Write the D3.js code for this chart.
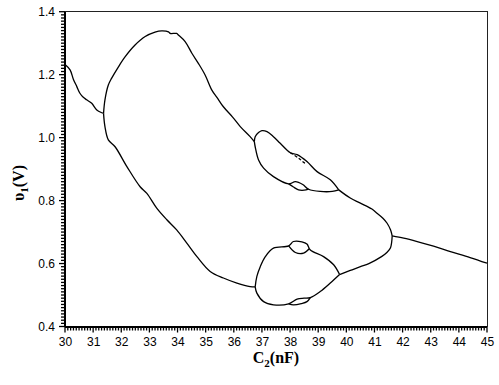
<!DOCTYPE html>
<html><head><meta charset="utf-8">
<script src="https://cdn.jsdelivr.net/npm/d3@7"></script>
<style>body{margin:0;background:#fff}svg{display:block}</style>
</head><body>
<svg id="c" width="499" height="385"></svg>
<script>
// ---- data (C2 in nF, v1 in V) ----
const xTicks = [30,31,32,33,34,35,36,37,38,39,40,41,42,43,44,45];
const yTicks = [0.4,0.6,0.8,1.0,1.2,1.4];

const period1Left = [[30.00,1.232],[30.18,1.215],[30.30,1.185],[30.42,1.162],[30.53,1.141],[30.65,1.128],[30.77,1.120],[30.95,1.109],[31.13,1.088],[31.31,1.079],[31.37,1.077]];
const bigLoopUpper = [[31.37,1.077],[31.42,1.120],[31.54,1.167],[31.66,1.189],[31.90,1.225],[32.14,1.257],[32.49,1.294],[32.85,1.321],[33.20,1.335],[33.44,1.339],[33.68,1.336],[33.74,1.331],[33.97,1.331],[34.03,1.326],[34.27,1.305],[34.51,1.268],[34.74,1.236],[34.98,1.199],[35.22,1.151],[35.40,1.128],[35.63,1.098],[35.95,1.066],[36.23,1.035],[36.58,1.003],[36.73,0.987]];
const bigLoopLower = [[31.37,1.077],[31.42,1.035],[31.54,0.993],[31.78,0.971],[32.20,0.908],[32.67,0.844],[32.91,0.823],[33.26,0.776],[33.62,0.739],[33.97,0.707],[34.33,0.665],[34.69,0.622],[35.16,0.575],[35.63,0.554],[36.11,0.538],[36.58,0.527],[36.76,0.526]];

const upperLoopTop = [[36.73,0.987],[36.76,1.003],[36.88,1.016],[37.00,1.022],[37.18,1.019],[37.41,1.003],[37.65,0.982],[38.01,0.952],[38.25,0.946],[38.60,0.924],[38.96,0.892],[39.43,0.866],[39.73,0.834]];
const upperLoopTopBubble = [[38.01,0.952],[38.30,0.935],[38.54,0.919],[38.60,0.924]];
const upperLoopBottom = [[36.73,0.987],[36.76,0.971],[36.88,0.929],[37.06,0.903],[37.41,0.876],[37.95,0.853],[38.19,0.860],[38.45,0.851],[38.66,0.836],[39.07,0.829],[39.50,0.829],[39.73,0.834]];
const upperLoopBottomBubble = [[37.95,0.853],[38.12,0.843],[38.30,0.834],[38.50,0.833],[38.66,0.836]];

const lowerLoopTop = [[36.76,0.526],[36.82,0.559],[36.94,0.590],[37.12,0.622],[37.41,0.649],[37.95,0.656],[38.12,0.670],[38.42,0.669],[38.60,0.662],[38.72,0.643],[39.19,0.622],[39.55,0.596],[39.76,0.565]];
const lowerLoopTopBubble = [[37.95,0.656],[38.19,0.635],[38.48,0.633],[38.68,0.647]];
const lowerLoopBottom = [[36.76,0.526],[36.82,0.506],[37.06,0.479],[37.41,0.469],[37.95,0.472],[38.25,0.487],[38.50,0.490],[38.72,0.492],[39.07,0.511],[39.43,0.538],[39.76,0.565]];
const lowerLoopBottomBubble = [[37.95,0.472],[38.12,0.469],[38.40,0.473],[38.60,0.479],[38.72,0.492]];

const period2Upper = [[39.73,0.834],[40.14,0.808],[40.50,0.792],[40.91,0.773],[41.09,0.760],[41.30,0.744],[41.45,0.728],[41.57,0.707],[41.63,0.688]];
const period2Lower = [[39.76,0.565],[40.14,0.578],[40.50,0.590],[40.80,0.600],[41.25,0.622],[41.45,0.636],[41.57,0.650],[41.63,0.688]];
const period1Right = [[41.63,0.688],[42.04,0.681],[42.52,0.670],[43.10,0.655],[43.70,0.638],[44.40,0.619],[45.00,0.601]];

const branches = [
  {d: period1Left, dash: null},
  {d: bigLoopUpper, dash: null},
  {d: bigLoopLower, dash: null},
  {d: upperLoopTop, dash: null},
  {d: upperLoopTopBubble, dash: "3,2"},
  {d: upperLoopBottom, dash: null},
  {d: upperLoopBottomBubble, dash: null},
  {d: lowerLoopTop, dash: null},
  {d: lowerLoopTopBubble, dash: null},
  {d: lowerLoopBottom, dash: null},
  {d: lowerLoopBottomBubble, dash: null},
  {d: period2Upper, dash: null},
  {d: period2Lower, dash: null},
  {d: period1Right, dash: null}
];

// ---- drawing ----
const svg = d3.select("#c");
const L = 65, R = 487, T = 11.7, B = 326.5;
const x = d3.scaleLinear().domain([30,45]).range([L,R]);
const y = d3.scaleLinear().domain([0.4,1.4]).range([B,T]);

const xMinor = d3.range(300,451).map(v=>v/10);
const yMinor = d3.range(40,141).map(v=>v/100);
const isMajorX = v => Math.abs(v - Math.round(v)) < 1e-6;
const isMajorY = v => Math.abs(v*5 - Math.round(v*5)) < 1e-6;

// tick marks
const tg = svg.append("g").attr("stroke","#000").attr("stroke-width",1.3);
tg.selectAll("line.xt").data(xMinor).join("line").attr("class","xt")
  .attr("x1",d=>x(d)).attr("x2",d=>x(d))
  .attr("y1",B).attr("y2",d=>B+(isMajorX(d)?6:4));
tg.selectAll("line.yt").data(yMinor).join("line").attr("class","yt")
  .attr("y1",d=>y(d)).attr("y2",d=>y(d))
  .attr("x1",L).attr("x2",d=>L-(isMajorY(d)?6:4));

// tick labels via axes (no tick lines)
svg.append("g").attr("transform",`translate(0,${B})`)
  .call(d3.axisBottom(x).tickValues(xTicks).tickSize(0).tickPadding(11).tickFormat(d3.format("d")))
  .call(g=>{g.select(".domain").remove(); g.selectAll(".tick line").remove();});
svg.append("g").attr("transform",`translate(${L},0)`)
  .call(d3.axisLeft(y).tickValues(yTicks).tickSize(0).tickPadding(10).tickFormat(d3.format(".1f")))
  .call(g=>{g.select(".domain").remove(); g.selectAll(".tick line").remove();});
svg.selectAll(".tick text").attr("font-family","'Liberation Sans', Arial, sans-serif").attr("font-size",12).attr("fill","#000");

// frame
svg.append("rect").attr("x",L).attr("y",T).attr("width",R-L).attr("height",B-T)
  .attr("fill","none").attr("stroke","#222").attr("stroke-width",1).attr("shape-rendering","crispEdges");
svg.append("line").attr("x1",L).attr("x2",L).attr("y1",T).attr("y2",B).attr("stroke","#000").attr("stroke-width",2).attr("shape-rendering","crispEdges");
svg.append("line").attr("x1",L).attr("x2",R).attr("y1",B).attr("y2",B).attr("stroke","#000").attr("stroke-width",2).attr("shape-rendering","crispEdges");

// curves
const line = d3.line().x(d=>x(d[0])).y(d=>y(d[1])).curve(d3.curveCatmullRom.alpha(0.5));
svg.append("g").selectAll("path").data(branches).join("path")
  .attr("d", b=>line(b.d)).attr("fill","none").attr("stroke","#000")
  .attr("stroke-width",1.3).attr("stroke-dasharray", b=>b.dash);

// axis titles
const xt = svg.append("text").attr("x",(L+R)/2).attr("y",363).attr("text-anchor","middle")
  .attr("font-family","'Liberation Serif','Times New Roman',serif").attr("font-weight","bold").attr("font-size",16);
xt.append("tspan").text("C");
xt.append("tspan").attr("font-size",11).attr("dy",4).text("2");
xt.append("tspan").attr("dy",-4).text("(nF)");

const yt = svg.append("text").attr("transform","translate(24,183) rotate(-90)").attr("text-anchor","middle")
  .attr("font-family","'Liberation Serif','Times New Roman',serif").attr("font-weight","bold").attr("font-size",16);
yt.append("tspan").text("υ");
yt.append("tspan").attr("font-size",11).attr("dy",4).text("1");
yt.append("tspan").attr("dy",-4).text("(V)");
</script>
</body></html>
